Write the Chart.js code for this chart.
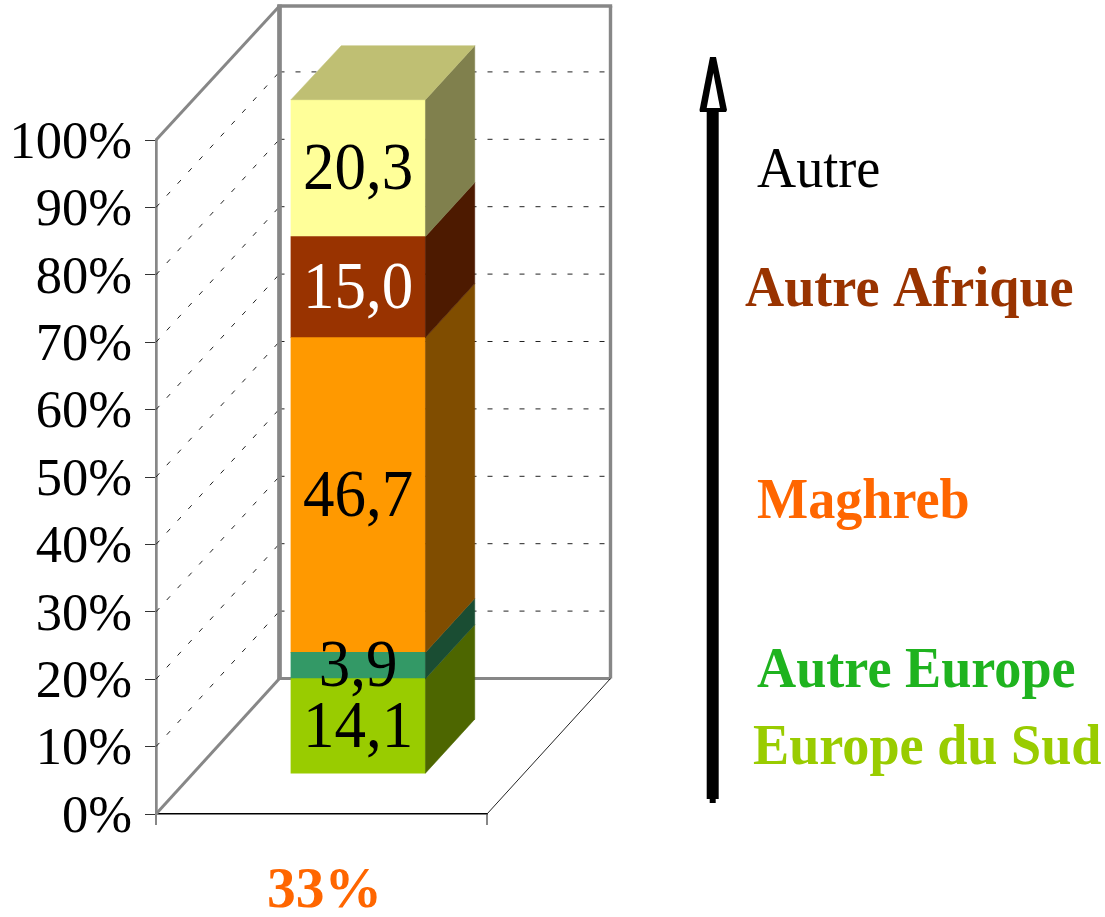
<!DOCTYPE html>
<html><head><meta charset="utf-8">
<style>html,body{margin:0;padding:0;background:#fff}canvas{display:block}</style>
<script src="https://cdn.jsdelivr.net/npm/chart.js@4"></script>
</head><body>
<canvas id="c" width="1105" height="917"></canvas>
<script>
const categories = ['33%'];
const seriesNames = ['Europe du Sud','Autre Europe','Maghreb','Autre Afrique','Autre'];
const seriesValues = [14.1, 3.9, 46.7, 15.0, 20.3];
const barColors = ['#99CC00','#339966','#FF9900','#993300','#FFFF99'];
const valueLabelColors = ['#000000','#000000','#000000','#FFFFFF','#000000'];
const legendColors = ['#99CC00','#1FB31F','#FF6600','#993300','#000000'];
const legendBold = [true,true,true,true,false];
const categoryColor = '#FF6600';

const SERIF = '"Liberation Serif","Times New Roman",serif';
const WALL = '#878787';
const DEPTH = {x:123.5, y:-135.5};
const BAR_SHIFT = {x:36.7, y:-40.3};
const BAR_DEPTH = {x:49.3, y:-54};
const LEGEND_POS = [[753,764],[757,687],[757,518],[745,306],[757,187]];
const STRETCH = 1.07;

function shade(hex,f){
  const n=parseInt(hex.slice(1),16);
  return 'rgb('+[(n>>16)&255,(n>>8)&255,n&255].map(v=>Math.round(v*f)).join(',')+')';
}
function poly(ctx,pts,fill){
  ctx.beginPath();pts.forEach((p,i)=>i?ctx.lineTo(p[0],p[1]):ctx.moveTo(p[0],p[1]));ctx.closePath();
  ctx.fillStyle=fill;ctx.fill();ctx.strokeStyle=fill;ctx.lineWidth=0.5;ctx.stroke();
}
function seg(ctx,x1,y1,x2,y2,color,w,dash){
  ctx.save();ctx.beginPath();ctx.setLineDash(dash||[]);ctx.moveTo(x1,y1);ctx.lineTo(x2,y2);
  ctx.strokeStyle=color;ctx.lineWidth=w;ctx.stroke();ctx.restore();
}
function tallText(ctx,text,x,y){
  ctx.save();ctx.translate(x,y);ctx.scale(1,STRETCH);ctx.fillText(text,0,0);ctx.restore();
}

const frame3d = {
  id:'frame3d',
  beforeDatasetsDraw(chart){
    const {ctx,scales:{y},chartArea:a}=chart;
    y.ticks.forEach(t=>{
      const p=y.getPixelForValue(t.value);
      if(t.value<100) seg(ctx,a.left,p,a.left+DEPTH.x,p+DEPTH.y,'#222',1,[5,11]);
      if(t.value>0&&t.value<100) seg(ctx,a.left+DEPTH.x,p+DEPTH.y,a.right+DEPTH.x,p+DEPTH.y,'#222',1,[5,11]);
    });
    const bx=a.left+DEPTH.x, tb=a.top+DEPTH.y+1.5, bb=a.bottom+DEPTH.y, rx=a.right+DEPTH.x;
    seg(ctx,a.left,a.top,bx,tb,WALL,3);
    seg(ctx,a.left,a.bottom,bx,bb,WALL,3);
    seg(ctx,bx,tb-1.5,bx,bb+1.5,WALL,4.7);
    seg(ctx,bx-2,tb,rx+1.7,tb,WALL,3.4);
    seg(ctx,rx,tb,rx,bb,WALL,3.4);
    seg(ctx,bx,bb,rx,bb,WALL,3.2);
    seg(ctx,a.right,a.bottom,rx,bb,'#222',1);
    // arrow
    seg(ctx,712.7,799,712.7,112,'#000',12);
    seg(ctx,712.7,803,712.7,795,'#000',6);
    ctx.beginPath();ctx.moveTo(710,57);ctx.lineTo(716,57);ctx.lineTo(727,110);ctx.lineTo(726,112);ctx.lineTo(700,112);ctx.lineTo(699.5,110);ctx.closePath();
    ctx.fillStyle='#000';ctx.fill();
    ctx.beginPath();ctx.moveTo(713.3,73);ctx.lineTo(720,108);ctx.lineTo(706.7,108);ctx.closePath();
    ctx.fillStyle='#fff';ctx.fill();
    ctx.save();ctx.translate(BAR_SHIFT.x,BAR_SHIFT.y);
  },
  afterDatasetsDraw(chart){
    const {ctx}=chart;
    const metas=chart.getSortedVisibleDatasetMetas();
    metas.forEach((m,i)=>{
      const b=m.data[0], c=barColors[i];
      const right=b.x+b.width/2, left=b.x-b.width/2;
      poly(ctx,[[right,b.y],[right+BAR_DEPTH.x,b.y+BAR_DEPTH.y],[right+BAR_DEPTH.x,b.base+BAR_DEPTH.y],[right,b.base]],shade(c,0.5));
      if(i===metas.length-1)
        poly(ctx,[[left,b.y],[left+BAR_DEPTH.x+1,b.y+BAR_DEPTH.y],[right+BAR_DEPTH.x,b.y+BAR_DEPTH.y],[right,b.y]],shade(c,0.75));
    });
    ctx.textAlign='center';ctx.textBaseline='alphabetic';ctx.font='63px '+SERIF;
    metas.forEach((m,i)=>{
      const b=m.data[0];
      ctx.fillStyle=valueLabelColors[i];
      tallText(ctx,seriesValues[i].toFixed(1).replace('.',','),b.x,(b.y+b.base)/2+20.7);
    });
    ctx.restore();
    ctx.textAlign='left';
    seriesNames.forEach((n,i)=>{
      ctx.font=(legendBold[i]?'bold ':'')+'54.2px '+SERIF;
      ctx.fillStyle=legendColors[i];
      tallText(ctx,n,LEGEND_POS[i][0],LEGEND_POS[i][1]);
    });
  }
};

new Chart(document.getElementById('c'),{
  type:'bar',
  data:{labels:categories,datasets:seriesValues.map((v,i)=>({label:seriesNames[i],data:[v],backgroundColor:barColors[i],borderWidth:0,barThickness:134.5,clip:false}))},
  options:{
    responsive:false,animation:false,
    layout:{padding:{top:140,right:618,bottom:0,left:0}},
    plugins:{legend:{display:false},tooltip:{enabled:false},title:{display:false}},
    scales:{
      x:{stacked:true,
        border:{color:'#000',width:1.5},
        grid:{offset:true,drawOnChartArea:false,drawTicks:true,tickLength:11,color:WALL,lineWidth:2},
        ticks:{color:categoryColor,font:{family:SERIF,size:57.5,weight:'bold'},padding:33,maxRotation:0,labelOffset:3},
        afterFit(s){s.height=103;}
      },
      y:{stacked:true,min:0,max:100,
        border:{color:WALL,width:2.7},
        grid:{drawOnChartArea:false,drawTicks:true,tickLength:11,color:'#333',lineWidth:1},
        ticks:{stepSize:10,color:'#000',font:{family:SERIF,size:52.5},padding:13,labelOffset:4,callback:v=>v+'%'},
        afterFit(s){s.width=156;}
      }
    }
  },
  plugins:[frame3d]
});
</script>
</body></html>
